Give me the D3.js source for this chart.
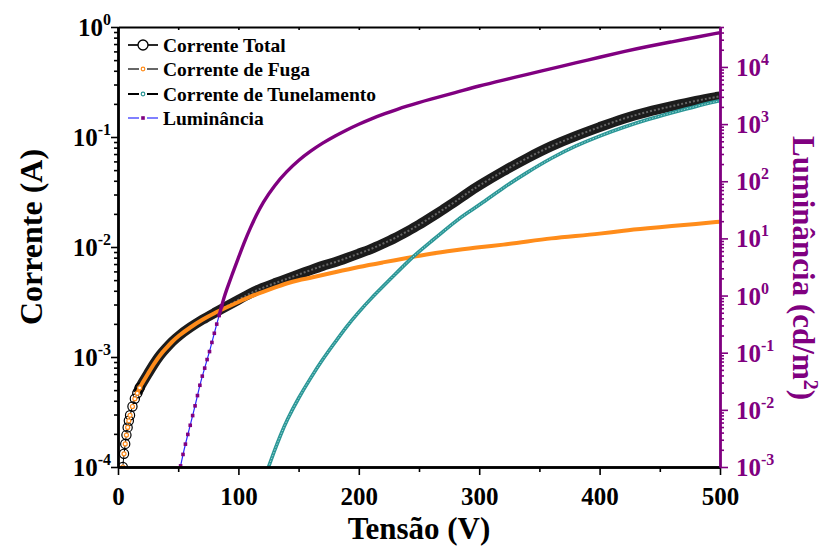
<!DOCTYPE html>
<html>
<head>
<meta charset="utf-8">
<script src="https://cdn.jsdelivr.net/npm/d3@7"></script>
<style>
  body { margin: 0; background: #fff; }
  svg text { font-family: "Liberation Serif", "Times New Roman", serif; font-weight: bold; }
</style>
</head>
<body>
<script>
// data (log10 of the values)
const vTotal = [4,5,6,7,8,9,10,12,14,16,18,20,25,30,35,40,45,50,60,70,80,90,100,110,120,130,140,150,160,170,180,190,200,210,220,230,240,250,260,270,280,290,300,320,340,360,380,400,420,440,460,480,500];
const logTotal = [-4.00,-3.88,-3.79,-3.71,-3.64,-3.58,-3.53,-3.45,-3.38,-3.33,-3.28,-3.24,-3.15,-3.06,-2.98,-2.92,-2.86,-2.81,-2.73,-2.66,-2.60,-2.54,-2.48,-2.42,-2.37,-2.33,-2.29,-2.25,-2.21,-2.17,-2.14,-2.10,-2.06,-2.02,-1.97,-1.92,-1.86,-1.80,-1.73,-1.66,-1.59,-1.51,-1.44,-1.31,-1.19,-1.08,-0.99,-0.91,-0.83,-0.77,-0.72,-0.67,-0.63];

const vFuga = [4,5,6,7,8,9,10,12,14,16,18,20,25,30,35,40,45,50,60,70,80,90,100,110,120,130,140,150,160,180,200,220,240,260,280,300,320,340,360,380,400,420,440,460,480,500];
const logFuga = [-4.00,-3.88,-3.79,-3.71,-3.64,-3.58,-3.53,-3.45,-3.38,-3.33,-3.28,-3.24,-3.15,-3.06,-2.98,-2.92,-2.86,-2.81,-2.73,-2.66,-2.60,-2.55,-2.50,-2.45,-2.41,-2.37,-2.33,-2.30,-2.28,-2.23,-2.18,-2.14,-2.10,-2.06,-2.03,-2.00,-1.98,-1.95,-1.92,-1.90,-1.88,-1.85,-1.83,-1.81,-1.79,-1.77];

const vTunel = [124,130,135,140,150,160,170,180,190,200,210,220,230,240,250,260,270,280,290,300,320,340,360,380,400,420,440,460,480,500];
const logTunel = [-4.03,-3.85,-3.71,-3.58,-3.37,-3.19,-3.02,-2.87,-2.72,-2.59,-2.47,-2.36,-2.25,-2.14,-2.04,-1.95,-1.86,-1.77,-1.69,-1.62,-1.46,-1.32,-1.19,-1.08,-0.99,-0.91,-0.84,-0.78,-0.72,-0.67];

const vLum = [51,52,54,56,58,60,62,64,66,68,70,72,74,76,78,80,82,84,86,88,90,95,100,105,110,115,120,130,140,150,160,170,180,190,200,210,220,240,260,280,300,320,340,360,380,400,420,440,460,480,500];
const logLum = [-3.08,-2.98,-2.78,-2.60,-2.43,-2.27,-2.10,-1.93,-1.75,-1.57,-1.41,-1.27,-1.12,-0.98,-0.82,-0.66,-0.50,-0.35,-0.19,-0.04,0.09,0.38,0.66,0.94,1.19,1.41,1.62,1.93,2.17,2.37,2.53,2.67,2.79,2.90,3.00,3.09,3.17,3.32,3.44,3.55,3.67,3.77,3.87,3.97,4.07,4.17,4.27,4.36,4.44,4.52,4.60];

const xTicks = [0,100,200,300,400,500];
const leftExps = [-4,-3,-2,-1,0];
const rightExps = [-3,-2,-1,0,1,2,3,4];
const legendNames = ["Corrente Total","Corrente de Fuga","Corrente de Tunelamento","Luminância"];

const W = 821, H = 547;
const margin = {top: 27, right: 101, bottom: 80, left: 118};
const purple = "#800080";

const svg = d3.select("body").append("svg")
    .attr("width", W).attr("height", H);

let x = d3.scaleLinear([0, 500], [margin.left, W - margin.right]);
let yL = d3.scaleLog([1e-4, 1], [H - margin.bottom, margin.top]);
let yR = d3.scaleLog([1e-3, 5e4], [H - margin.bottom, margin.top]);

function pts(vs, logs) {
    return vs.map((v, i) => ({v: v, y: Math.pow(10, logs[i])}));
}
let total = pts(vTotal, logTotal);
let fuga = pts(vFuga, logFuga);
let tunel = pts(vTunel, logTunel);
let lum = pts(vLum, logLum);

function minorTicks(lo, hi) {
    let out = [];
    for (let e = lo; e < hi; e++)
        for (let m = 2; m <= 9; m++) out.push(m * Math.pow(10, e));
    return out;
}

svg.append("clipPath").attr("id", "plot")
  .append("rect")
    .attr("x", margin.left).attr("y", margin.top)
    .attr("width", x(500) - x(0)).attr("height", yL(1e-4) - yL(1));

const plot = svg.append("g").attr("clip-path", "url(#plot)");

let lineL = d3.line().x(d => x(d.v)).y(d => yL(d.y)).curve(d3.curveBasis);
let lineR = d3.line().x(d => x(d.v)).y(d => yR(d.y)).curve(d3.curveBasis);

// Corrente Total: dense open circles -> dark band
plot.append("path").datum(total)
    .attr("fill", "none").attr("stroke", "#000").attr("stroke-width", 1)
    .attr("d", lineL);
plot.append("path").datum(total.filter(d => d.v >= 16))
    .attr("fill", "none").attr("stroke", "#1c1c1c").attr("stroke-width", 10)
    .attr("d", lineL);
plot.append("path").datum(total.filter(d => d.v >= 16))
    .attr("fill", "none").attr("stroke", "#666").attr("stroke-width", 2)
    .attr("stroke-dasharray", "2,2").attr("d", lineL);
plot.append("g").selectAll("circle")
    .data(total.filter(d => d.v < 20))
    .join("circle")
      .attr("cx", d => x(d.v)).attr("cy", d => yL(d.y)).attr("r", 4.6)
      .attr("fill", "none").attr("stroke", "#000").attr("stroke-width", 1.2);

// Corrente de Fuga
plot.append("path").datum(fuga.filter(d => d.v >= 16))
    .attr("fill", "none").attr("stroke", "#ff8c1a").attr("stroke-width", 4)
    .attr("d", lineL);
plot.append("g").selectAll("circle")
    .data(fuga.filter(d => d.v < 20))
    .join("circle")
      .attr("cx", d => x(d.v)).attr("cy", d => yL(d.y)).attr("r", 2)
      .attr("fill", "#fff").attr("stroke", "#ff8c1a").attr("stroke-width", 1.2);

// Corrente de Tunelamento
plot.append("path").datum(tunel)
    .attr("fill", "none").attr("stroke", "#2a9696").attr("stroke-width", 3.6)
    .attr("d", lineL);
plot.append("path").datum(tunel)
    .attr("fill", "none").attr("stroke", "#a6dcdc").attr("stroke-width", 0.9)
    .attr("stroke-dasharray", "1.5,1.5").attr("d", lineL);

// Luminância
plot.append("path").datum(lum)
    .attr("fill", "none").attr("stroke", "#2a2aff").attr("stroke-width", 1.2)
    .attr("d", lineR);
plot.append("path").datum(lum.filter(d => d.v >= 84))
    .attr("fill", "none").attr("stroke", purple).attr("stroke-width", 3.4)
    .attr("d", lineR);
plot.append("g").selectAll("rect")
    .data(lum.filter(d => d.v < 88))
    .join("rect")
      .attr("x", d => x(d.v) - 1.8).attr("y", d => yR(d.y) - 1.8)
      .attr("width", 3.6).attr("height", 3.6).attr("fill", purple);

// axes
function styleAxis(g, color, width) {
    g.select(".domain").attr("stroke", color).attr("stroke-width", width);
    g.selectAll(".tick line").attr("stroke", color).attr("stroke-width", 1.6);
    g.selectAll(".tick text").remove();
}

// top border with small inward ticks
svg.append("g").attr("transform", `translate(0,${margin.top})`)
    .call(d3.axisTop(x).tickValues(d3.range(0, 501, 50)).tickSize(-3).tickSizeOuter(0))
    .call(g => styleAxis(g, "#000", 2));

// bottom axis
svg.append("g").attr("transform", `translate(0,${H - margin.bottom})`)
    .call(d3.axisBottom(x).tickValues([50,150,250,350,450]).tickSize(5).tickSizeOuter(0))
    .call(g => styleAxis(g, "#000", 2.4));
svg.append("g").attr("transform", `translate(0,${H - margin.bottom})`)
    .call(d3.axisBottom(x).tickValues(xTicks).tickSize(8).tickSizeOuter(0))
    .call(g => styleAxis(g, "#000", 2.4))
    .call(g => g.selectAll(".tick").append("text")
        .attr("y", 38).attr("text-anchor", "middle")
        .attr("fill", "#000").attr("font-size", 25)
        .text(d => d));

// left axis
svg.append("g").attr("transform", `translate(${margin.left},0)`)
    .call(d3.axisLeft(yL).tickValues(minorTicks(-4, 0)).tickSize(4).tickSizeOuter(0))
    .call(g => styleAxis(g, "#000", 2.4));
svg.append("g").attr("transform", `translate(${margin.left},0)`)
    .call(d3.axisLeft(yL).tickValues(leftExps.map(e => Math.pow(10, e))).tickSize(7).tickSizeOuter(0))
    .call(g => styleAxis(g, "#000", 2.4));
leftExps.forEach(e => {
    let t = svg.append("text")
        .attr("x", margin.left - 7).attr("y", yL(Math.pow(10, e)) + 9)
        .attr("text-anchor", "end").attr("fill", "#000").attr("font-size", 25);
    t.append("tspan").text("10");
    t.append("tspan").attr("dy", -11).attr("font-size", 16).text(e);
});

// right axis
const xr = W - margin.right;
svg.append("g").attr("transform", `translate(${xr},0)`)
    .call(d3.axisRight(yR).tickValues(minorTicks(-3, 4).concat([2e4, 3e4, 4e4, 5e4])).tickSize(4).tickSizeOuter(0))
    .call(g => styleAxis(g, purple, 2.4));
svg.append("g").attr("transform", `translate(${xr},0)`)
    .call(d3.axisRight(yR).tickValues(rightExps.map(e => Math.pow(10, e))).tickSize(8).tickSizeOuter(0))
    .call(g => styleAxis(g, purple, 2.4));
rightExps.forEach(e => {
    let t = svg.append("text")
        .attr("x", xr + 16).attr("y", yR(Math.pow(10, e)) + 9)
        .attr("text-anchor", "start").attr("fill", purple).attr("font-size", 25);
    t.append("tspan").text("10");
    t.append("tspan").attr("dy", -11).attr("font-size", 16).text(e);
});

// axis titles
svg.append("text")
    .attr("x", (x(0) + x(500)) / 2).attr("y", 539)
    .attr("text-anchor", "middle").attr("font-size", 31).attr("fill", "#000")
    .text("Tensão (V)");
svg.append("text")
    .attr("transform", `translate(42,237) rotate(-90)`)
    .attr("text-anchor", "middle").attr("font-size", 32).attr("fill", "#000")
    .text("Corrente (A)");
let rt = svg.append("text")
    .attr("transform", `translate(793,268) rotate(90)`)
    .attr("text-anchor", "middle").attr("font-size", 31).attr("fill", purple);
rt.append("tspan").text("Luminância (cd/m");
rt.append("tspan").attr("dy", -11).attr("font-size", 20).text("2");
rt.append("tspan").attr("dy", 11).text(")");

// legend
const legend = svg.append("g");
const rowsY = [45, 69, 94, 118];
const lx1 = 128, lx2 = 158, lmid = 143;
legendNames.forEach((name, i) => {
    let g = legend.append("g").attr("transform", `translate(0,${rowsY[i]})`);
    let lineColor = i == 3 ? "#2a2aff" : "#000";
    let lw = i == 2 ? 2 : 1.2;
    g.append("line").attr("x1", lx1).attr("x2", lmid - 4).attr("stroke", lineColor).attr("stroke-width", lw);
    g.append("line").attr("x1", lmid + 4).attr("x2", lx2).attr("stroke", lineColor).attr("stroke-width", lw);
    if (i == 0) {
        g.append("line").attr("x1", lx1).attr("x2", lx2).attr("stroke", "#000").attr("stroke-width", 1.2);
        g.append("circle").attr("cx", lmid).attr("r", 5).attr("fill", "#fff").attr("stroke", "#000").attr("stroke-width", 1.3);
    } else if (i == 1) {
        g.append("circle").attr("cx", lmid).attr("r", 1.8).attr("fill", "#fff").attr("stroke", "#ff8c1a").attr("stroke-width", 1.2);
    } else if (i == 2) {
        g.append("circle").attr("cx", lmid).attr("r", 1.8).attr("fill", "#fff").attr("stroke", "#2a9696").attr("stroke-width", 1.2);
    } else {
        g.append("rect").attr("x", lmid - 1.8).attr("y", -1.8).attr("width", 3.6).attr("height", 3.6).attr("fill", purple);
    }
    g.append("text").attr("x", 163).attr("y", 6.5)
        .attr("font-size", 19.5).attr("fill", "#000").text(name);
});
</script>
</body>
</html>
